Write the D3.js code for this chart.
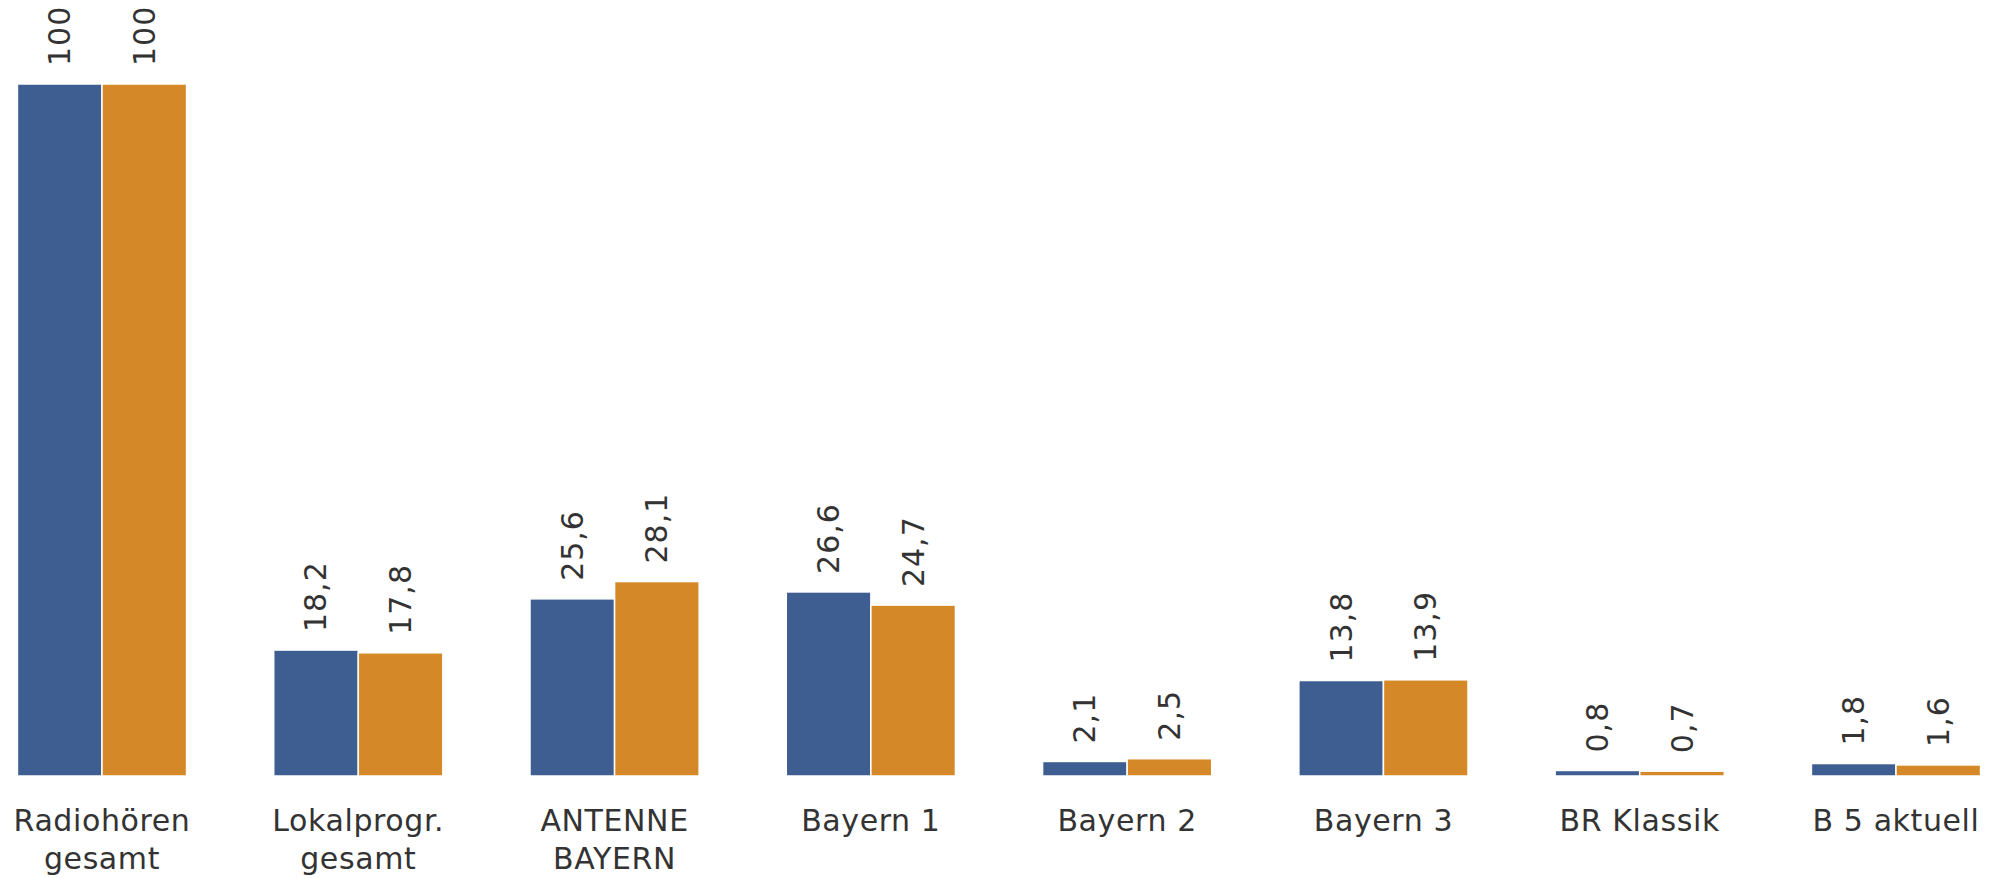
<!DOCTYPE html>
<html>
<head>
<meta charset="utf-8">
<script src="https://cdn.jsdelivr.net/npm/d3@7"></script>
<style>
  body { margin: 0; background: #fff; }
  svg { display: block; font-family: "DejaVu Sans", Verdana, sans-serif; }
</style>
</head>
<body>
<div id="chart"></div>
<script>
const categories = [
  ["Radiohören", "gesamt"],
  ["Lokalprogr.", "gesamt"],
  ["ANTENNE", "BAYERN"],
  ["Bayern 1"],
  ["Bayern 2"],
  ["Bayern 3"],
  ["BR Klassik"],
  ["B 5 aktuell"]
];
const seriesA = [100, 18.2, 25.6, 26.6, 2.1, 13.8, 0.8, 1.8];
const seriesB = [100, 17.8, 28.1, 24.7, 2.5, 13.9, 0.7, 1.6];
const colors = ["#3e5e91", "#d58828"];

const width = 2001, height = 878;
const baseline = 776;

const svg = d3.select("#chart").append("svg")
  .attr("width", width)
  .attr("height", height);

const x = d3.scaleBand()
  .domain(d3.range(categories.length))
  .range([0, 1998])
  .paddingInner(0.34)
  .paddingOuter(0.068);

const xSub = d3.scaleBand()
  .domain([0, 1])
  .range([0, x.bandwidth()]);

const y = d3.scaleLinear()
  .domain([0, 100])
  .range([baseline, 84]);

const fmt = (v) => (Number.isInteger(v) ? String(v) : d3.format(".1f")(v).replace(".", ","));

const datas = categories.map((c, i) => ({
  i: i,
  label: c,
  values: [seriesA[i], seriesB[i]]
}));

const groups = svg.selectAll("g.group")
  .data(datas)
  .enter()
  .append("g")
  .attr("class", "group")
  .attr("transform", (d) => `translate(${x(d.i)},0)`);

groups.selectAll("rect")
  .data((d) => d.values)
  .enter()
  .append("rect")
  .attr("x", (v, j) => xSub(j))
  .attr("y", (v) => y(v))
  .attr("width", xSub.bandwidth())
  .attr("height", (v) => baseline - y(v))
  .attr("fill", (v, j) => colors[j])
  .attr("stroke", "#fff")
  .attr("stroke-width", 1.5);

groups.selectAll("text.value")
  .data((d) => d.values)
  .enter()
  .append("text")
  .attr("class", "value")
  .attr("transform", (v, j) => `translate(${xSub(j) + xSub.bandwidth() / 2},${y(v) - 18}) rotate(-90)`)
  .attr("dy", "0.35em")
  .attr("fill", "#333")
  .attr("font-size", 30)
  .attr("letter-spacing", 1)
  .text((v) => fmt(v));

const labels = groups.append("text")
  .attr("class", "cat")
  .attr("text-anchor", "middle")
  .attr("fill", "#333")
  .attr("font-size", 30)
  .attr("letter-spacing", 0.6)
  .attr("x", x.bandwidth() / 2)
  .attr("y", 831);

labels.selectAll("tspan")
  .data((d) => d.label)
  .enter()
  .append("tspan")
  .attr("x", x.bandwidth() / 2)
  .attr("dy", (t, k) => (k === 0 ? 0 : 38))
  .text((t) => t);
</script>
</body>
</html>
